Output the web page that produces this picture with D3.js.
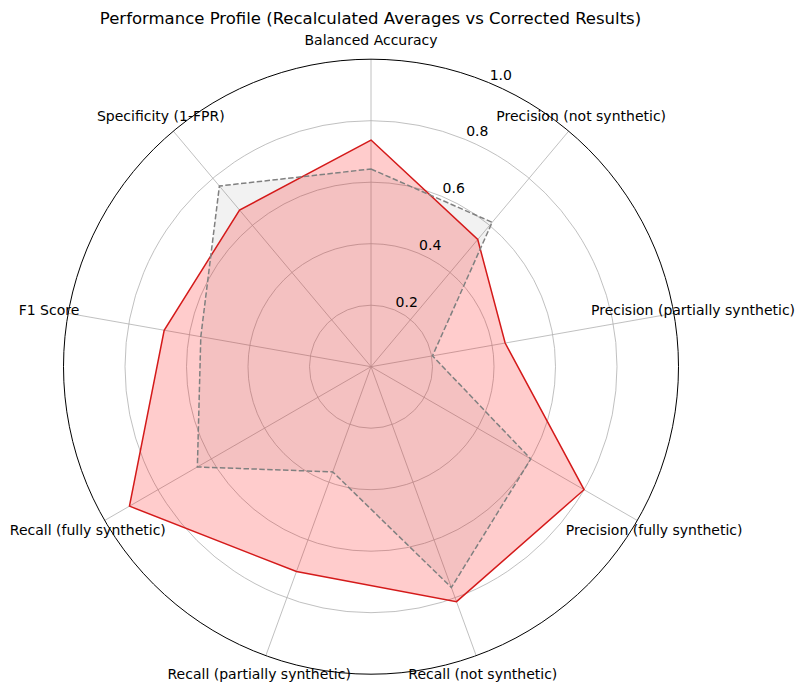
<!DOCTYPE html>
<html>
<head>
<meta charset="utf-8">
<script src="https://cdn.jsdelivr.net/npm/d3@7"></script>
<style>
  body { margin: 0; background: #fff; }
  svg { display: block; font-family: "DejaVu Sans", sans-serif; }
</style>
</head>
<body>
<svg width="804" height="691"></svg>
<script>
// metrics, clockwise from top
const categories = [
  "Balanced Accuracy",
  "Precision (not synthetic)",
  "Precision (partially synthetic)",
  "Precision (fully synthetic)",
  "Recall (not synthetic)",
  "Recall (partially synthetic)",
  "Recall (fully synthetic)",
  "F1 Score",
  "Specificity (1-FPR)"
];

const recalculated = [0.737, 0.54, 0.443, 0.80, 0.813, 0.709, 0.907, 0.683, 0.665];
const corrected    = [0.643, 0.613, 0.203, 0.60, 0.764, 0.364, 0.652, 0.562, 0.767];

const rTicks = [0.2, 0.4, 0.6, 0.8, 1.0];

const cx = 371, cy = 366.7, R = 307.5;

const svg = d3.select("svg");

const r = d3.scaleLinear().domain([0, 1]).range([0, R]);
const angle = d3.scalePoint().domain(categories).range([0, 2 * Math.PI * (categories.length - 1) / categories.length]);

const g = svg.append("g").attr("transform", `translate(${cx},${cy})`);

// xy for angle measured clockwise from top
const pt = (a, rad) => [rad * Math.sin(a), -rad * Math.cos(a)];

// grid circles
g.append("g").selectAll("circle")
  .data(rTicks.slice(0, -1))
  .join("circle")
    .attr("r", d => r(d))
    .attr("fill", "none")
    .attr("stroke", "#b0b0b0")
    .attr("stroke-width", 0.8);

// spokes
g.append("g").selectAll("line")
  .data(categories)
  .join("line")
    .attr("x1", 0).attr("y1", 0)
    .attr("x2", d => pt(angle(d), R)[0])
    .attr("y2", d => pt(angle(d), R)[1])
    .attr("stroke", "#b0b0b0")
    .attr("stroke-width", 0.8);

const line = d3.lineRadial()
  .angle((d, i) => angle(categories[i]))
  .radius(d => r(d))
  .curve(d3.curveLinearClosed);

// corrected results: gray dashed
g.append("path")
  .attr("d", line(corrected))
  .attr("fill", "rgba(128,128,128,0.1)")
  .attr("stroke", "none");

// recalculated averages: red
g.append("path")
  .attr("d", line(recalculated))
  .attr("fill", "rgba(255,0,0,0.2)")
  .attr("stroke", "#d41a1a")
  .attr("stroke-width", 1.5)
  .attr("stroke-linejoin", "miter");

g.append("path")
  .attr("d", line(corrected))
  .attr("fill", "none")
  .attr("stroke", "#808080")
  .attr("stroke-width", 1.5)
  .attr("stroke-dasharray", "5.5,2.4");

// outer frame
g.append("circle")
  .attr("r", R)
  .attr("fill", "none")
  .attr("stroke", "#000")
  .attr("stroke-width", 1);

// radial tick labels at 22.5deg
const labA = 22.5 * Math.PI / 180;
g.append("g").selectAll("text")
  .data(rTicks)
  .join("text")
    .attr("x", d => pt(labA, r(d))[0] + 1)
    .attr("y", d => pt(labA, r(d))[1] - 3)
    .attr("font-size", 14)
    .attr("fill", "#000")
    .text(d => d3.format(".1f")(d));

// category labels
g.append("g").selectAll("text")
  .data(categories)
  .join("text")
    .attr("x", d => pt(angle(d), R + 19.5)[0])
    .attr("y", d => pt(angle(d), R + 19.5)[1])
    .attr("text-anchor", "middle")
    .attr("dy", "0.35em")
    .attr("font-size", 14)
    .attr("fill", "#000")
    .text(d => d);

svg.append("text")
  .attr("x", 370.5)
  .attr("y", 18)
  .attr("dy", "0.35em")
  .attr("text-anchor", "middle")
  .attr("font-size", 16.5)
  .attr("fill", "#000")
  .text("Performance Profile (Recalculated Averages vs Corrected Results)");
</script>
</body>
</html>
